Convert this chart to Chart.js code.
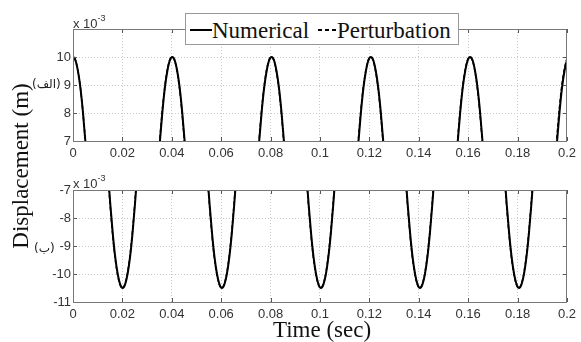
<!DOCTYPE html>
<html>
<head>
<meta charset="utf-8">
<script src="https://cdn.jsdelivr.net/npm/chart.js@4.4.1/dist/chart.umd.min.js"></script>
<style>
  body { margin: 0; background: #fff; }
  #wrap { position: relative; width: 581px; height: 342px; overflow: hidden; font-family: "Liberation Sans", Arial, sans-serif; }
  canvas { position: absolute; left: 0; }
  .serif { position: absolute; white-space: nowrap; font-family: "Liberation Serif", "Times New Roman", serif; font-size: 23px; line-height: 23px; color: #111; }
  .small { position: absolute; white-space: nowrap; font-size: 13px; line-height: 13px; color: #333; }
  .small sup { font-size: 9px; position: relative; top: -2px; }
  .ar { position: absolute; white-space: nowrap; font-family: "DejaVu Sans", sans-serif; font-size: 12px; line-height: 12px; color: #222; }
  #legend { position: absolute; left: 185px; top: 13px; width: 272px; height: 30px; background: #fff; border: 1px solid #999; }
</style>
</head>
<body>
<div id="wrap">
  <canvas id="topChart" width="581" height="171" style="top:0"></canvas>
  <canvas id="bottomChart" width="581" height="171" style="top:171px"></canvas>

  <div class="small" style="left:73px; top:14px;">x 10<sup>-3</sup></div>
  <div class="small" style="left:73px; top:174px;">x 10<sup>-3</sup></div>

  <div id="legend">
    <div style="position:absolute; left:4px; top:15px; width:22px; height:2px; background:#000;"></div>
    <div class="serif" style="left:26px; top:5px;">Numerical</div>
    <div style="position:absolute; left:132px; top:15px; width:19px; height:1.5px; background:repeating-linear-gradient(90deg,#000 0 4px,transparent 4px 7px);"></div>
    <div class="serif" style="left:151px; top:5px;">Perturbation</div>
  </div>

  <div class="serif" style="left:20px; top:166px; transform:translate(-50%,-50%) rotate(-90deg);">Displacement (m)</div>
  <div class="ar" style="left:32px; top:78px;">(الف)</div>
  <div class="ar" style="left:34px; top:242px;">(ب)</div>
  <div class="serif" style="left:322px; top:318px; transform:translateX(-50%);">Time (sec)</div>
</div>

<script>
// time offsets (s) around each crest / trough
const arcOffsets = [-0.006, -0.005, -0.004, -0.003, -0.002, -0.001, 0, 0.001, 0.002, 0.003, 0.004, 0.005, 0.006];
// displacement (x 10^-3 m) along an upper crest and a lower trough
const upperArc = [5.8, 7.0, 8.05, 8.9, 9.5, 9.88, 10.0, 9.88, 9.5, 8.9, 8.05, 7.0, 5.8];
const lowerArc = [-6.3, -7.5, -8.55, -9.4, -10.0, -10.37, -10.5, -10.37, -10.0, -9.4, -8.55, -7.5, -6.3];

// crest / trough times (s) for each solution
const numericalCrests = [0, 0.0402, 0.0804, 0.1206, 0.1608, 0.201];
const perturbationCrests = [0, 0.0401, 0.0803, 0.1205, 0.1607, 0.2008];
const numericalTroughs = [0.0201, 0.0603, 0.1004, 0.1405, 0.1806];
const perturbationTroughs = [0.02, 0.0602, 0.1003, 0.1404, 0.1805];

// axis ticks
const xTicks = [0, 0.02, 0.04, 0.06, 0.08, 0.1, 0.12, 0.14, 0.16, 0.18, 0.2];
const xTickLabels = ['0', '0.02', '0.04', '0.06', '0.08', '0.1', '0.12', '0.14', '0.16', '0.18', '0.2'];
const topYTicks = [7, 8, 9, 10];
const bottomYTicks = [-11, -10, -9, -8, -7];

function arcPoints(centres, values) {
    const pts = [];
    centres.forEach((c, i) => {
        if (i > 0) pts.push({ x: c - 0.02, y: null });
        arcOffsets.forEach((off, j) => pts.push({ x: c + off, y: values[j] }));
    });
    return pts;
}

// box round the plot area with inward ticks, MATLAB style
const boxPlugin = {
    id: 'box',
    afterDraw(chart) {
        const { ctx, chartArea: a, scales } = chart;
        ctx.save();
        ctx.strokeStyle = '#555';
        ctx.lineWidth = 1;
        ctx.beginPath();
        scales.x.ticks.forEach(t => {
            const px = Math.round(scales.x.getPixelForValue(t.value)) + 0.5;
            ctx.moveTo(px, a.bottom); ctx.lineTo(px, a.bottom - 4);
            ctx.moveTo(px, a.top); ctx.lineTo(px, a.top + 4);
        });
        scales.y.ticks.forEach(t => {
            const py = Math.round(scales.y.getPixelForValue(t.value)) + 0.5;
            ctx.moveTo(a.left, py); ctx.lineTo(a.left + 4, py);
            ctx.moveTo(a.right, py); ctx.lineTo(a.right - 4, py);
        });
        ctx.stroke();
        ctx.strokeStyle = '#777';
        ctx.strokeRect(Math.round(a.left) + 0.5, Math.round(a.top) + 0.5,
            Math.round(a.right - a.left) - 1, Math.round(a.bottom - a.top));
        ctx.restore();
    }
};

function makeChart(id, numData, pertData, yMin, yMax, yTicks, padTop, xAxisHeight) {
    return new Chart(document.getElementById(id), {
        type: 'line',
        data: {
            datasets: [{
                label: 'Numerical',
                data: numData,
                borderColor: '#000',
                borderWidth: 2,
                pointRadius: 0,
                cubicInterpolationMode: 'monotone',
                spanGaps: false
            }, {
                label: 'Perturbation',
                data: pertData,
                borderColor: '#000',
                borderWidth: 1.5,
                borderDash: [4, 2],
                pointRadius: 0,
                cubicInterpolationMode: 'monotone',
                spanGaps: false
            }]
        },
        options: {
            responsive: false,
            animation: false,
            devicePixelRatio: 1,
            layout: { padding: { left: 0, right: 11, top: padTop, bottom: 0 } },
            plugins: { legend: { display: false }, tooltip: { enabled: false } },
            scales: {
                x: {
                    type: 'linear',
                    min: 0,
                    max: 0.2,
                    afterBuildTicks: s => { s.ticks = xTicks.map(v => ({ value: v })); },
                    afterFit: s => { s.height = xAxisHeight; },
                    ticks: {
                        padding: 5,
                        maxRotation: 0,
                        color: '#333',
                        font: { family: 'Liberation Sans', size: 13 },
                        callback: (v, i) => xTickLabels[i]
                    },
                    grid: { color: '#c8c8c8', drawTicks: false },
                    border: { display: false, dash: [1, 2] }
                },
                y: {
                    min: yMin,
                    max: yMax,
                    afterBuildTicks: s => { s.ticks = yTicks.map(v => ({ value: v })); },
                    afterFit: s => { s.width = 73; },
                    ticks: {
                        padding: 2,
                        color: '#333',
                        font: { family: 'Liberation Sans', size: 13 },
                        callback: v => String(v)
                    },
                    grid: { color: '#c8c8c8', drawTicks: false },
                    border: { display: false, dash: [1, 2] }
                }
            }
        },
        plugins: [boxPlugin]
    });
}

makeChart('topChart', arcPoints(numericalCrests, upperArc), arcPoints(perturbationCrests, upperArc),
    7, 11, topYTicks, 29, 30);
makeChart('bottomChart', arcPoints(numericalTroughs, lowerArc), arcPoints(perturbationTroughs, lowerArc),
    -11, -7, bottomYTicks, 19, 40);
</script>
</body>
</html>
